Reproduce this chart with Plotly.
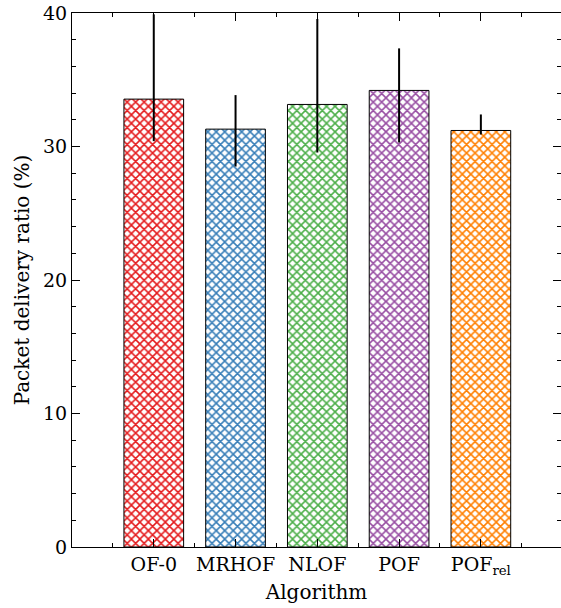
import plotly.graph_objects as go

categories = ["OF-0", "MRHOF", "NLOF", "POF", "POF<sub>rel</sub>"]
values = [33.55, 31.3, 33.15, 34.2, 31.2]
err_upper = [6.35, 2.55, 6.4, 3.15, 1.2]
err_lower = [3.15, 2.8, 3.6, 3.9, 0.3]
colors = ["#e41a1c", "#377eb8", "#4daf4a", "#984ea3", "#ff7f00"]

xpos = list(range(len(categories)))
font = "DejaVu Serif"

fig = go.Figure()
fig.add_trace(go.Bar(
    x=xpos, y=values, width=0.73,
    marker=dict(
        color="white",
        line=dict(color="black", width=1),
        pattern=dict(shape="x", fgcolor=colors, bgcolor="white", size=6, solidity=0.45, fgopacity=1),
    ),
    error_y=dict(type="data", symmetric=False, array=err_upper, arrayminus=err_lower,
                 color="black", thickness=2, width=0),
    showlegend=False,
))

fig.update_layout(
    width=561, height=608,
    margin=dict(l=72, r=0, t=13, b=61),
    plot_bgcolor="white", paper_bgcolor="white",
    font=dict(family=font, size=17, color="black"),
    xaxis=dict(
        range=[-1, 4.98], tickvals=xpos, ticktext=categories,
        tickfont=dict(family=font, size=19, color="black"),
        automargin=False,
        showline=True, linecolor="black", linewidth=1, mirror="ticks",
        ticks="inside", ticklen=8, tickcolor="black",
        minor=dict(tickvals=[-0.5, 0.5, 1.5, 2.5, 3.5, 4.5], ticks="inside", ticklen=4, tickcolor="black"),
        showgrid=False, zeroline=False,
        title=dict(text="Algorithm", standoff=8, font=dict(family=font, size=20)),
    ),
    yaxis=dict(
        range=[0, 40], tickvals=[0, 10, 20, 30, 40],
        tickfont=dict(family=font, size=19, color="black"),
        ticklabeloverflow="allow", automargin=False,
        showline=True, linecolor="black", linewidth=1, mirror="ticks",
        ticks="inside", ticklen=8, tickcolor="black",
        minor=dict(dtick=2, ticks="inside", ticklen=4, tickcolor="black"),
        showgrid=False, zeroline=False,
        title=dict(text="Packet delivery ratio (%)", standoff=8, font=dict(family=font, size=20)),
    ),
)

fig.write_html("out.html", config={"displayModeBar": False},
               post_script="document.body.style.margin='0';document.body.style.overflow='hidden';")
